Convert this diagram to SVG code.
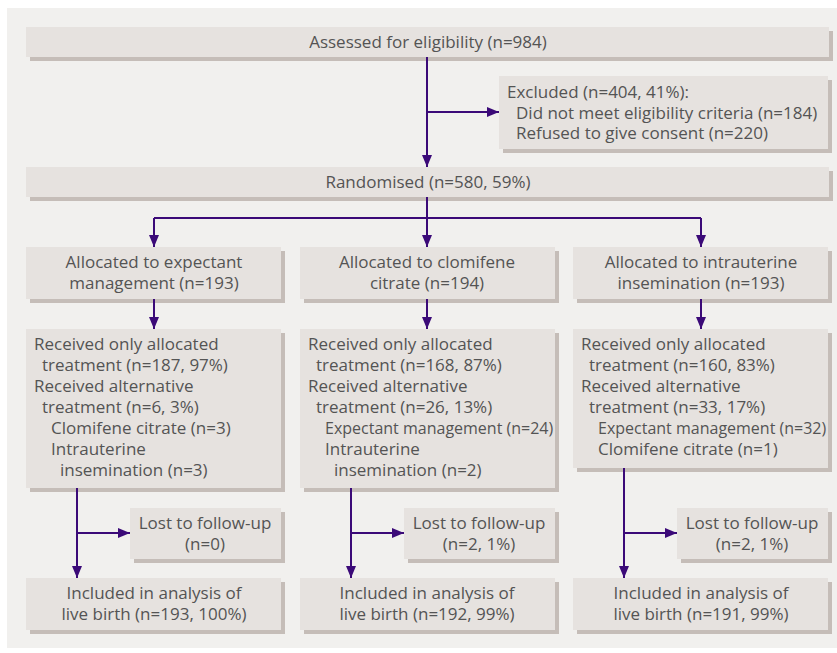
<svg xmlns="http://www.w3.org/2000/svg" width="837" height="653" viewBox="0 0 837 653">
<defs>
<style>
.bg{fill:#f1f0ee}
.sh{fill:#c5bdb8}
.bx{fill:#e6e2df}
text{font-family:"Open Sans","Noto Sans",sans-serif;font-size:17px;fill:#545454}
.c{text-anchor:middle}
.s{font-size:16px}
.ln{stroke:#3b0a78;stroke-width:2;fill:none}
</style>
<marker id="ah" viewBox="0 0 12 10" refX="12" refY="5" markerWidth="12" markerHeight="10" markerUnits="userSpaceOnUse" orient="auto">
<path d="M0,0 L12,5 L0,10 Z" fill="#3b0a78"/>
</marker>
</defs>
<rect class="bg" x="7" y="8" width="830" height="640"/>

<g id="assessed">
<rect class="sh" x="30" y="31" width="803" height="30"/>
<rect class="bx" x="26" y="27" width="803" height="30"/>
<text class="c" x="428" y="48">Assessed for eligibility (n=984)</text>
</g>

<g id="excluded">
<rect class="sh" x="503" y="80" width="329" height="73"/>
<rect class="bx" x="499" y="76" width="329" height="73"/>
<text x="507" y="98">Excluded (n=404, 41%):</text>
<text x="516" y="119">Did not meet eligibility criteria (n=184)</text>
<text x="516" y="139">Refused to give consent (n=220)</text>
</g>

<g id="randomised">
<rect class="sh" x="30" y="171" width="803" height="30"/>
<rect class="bx" x="26" y="167" width="803" height="30"/>
<text class="c" x="428" y="188">Randomised (n=580, 59%)</text>
</g>

<g id="alloc1">
<rect class="sh" x="30" y="251" width="255" height="52"/>
<rect class="bx" x="26" y="247" width="255" height="52"/>
<text class="c" x="154" y="268">Allocated to expectant</text>
<text class="c" x="154" y="289">management (n=193)</text>
</g>
<g id="alloc2">
<rect class="sh" x="304" y="251" width="255" height="52"/>
<rect class="bx" x="300" y="247" width="255" height="52"/>
<text class="c" x="427" y="268">Allocated to clomifene</text>
<text class="c" x="427" y="289">citrate (n=194)</text>
</g>
<g id="alloc3">
<rect class="sh" x="577" y="251" width="255" height="52"/>
<rect class="bx" x="573" y="247" width="255" height="52"/>
<text class="c" x="701" y="268">Allocated to intrauterine</text>
<text class="c" x="701" y="289">insemination (n=193)</text>
</g>

<g id="received1">
<rect class="sh" x="30" y="333" width="255" height="159"/>
<rect class="bx" x="26" y="329" width="255" height="159"/>
<text x="34" y="350">Received only allocated</text>
<text x="42" y="371">treatment (n=187, 97%)</text>
<text x="34" y="392">Received alternative</text>
<text x="42" y="413">treatment (n=6, 3%)</text>
<text x="51" y="434">Clomifene citrate (n=3)</text>
<text x="51" y="455">Intrauterine</text>
<text x="60" y="476">insemination (n=3)</text>
</g>
<g id="received2">
<rect class="sh" x="304" y="333" width="255" height="159"/>
<rect class="bx" x="300" y="329" width="255" height="159"/>
<text x="308" y="350">Received only allocated</text>
<text x="316" y="371">treatment (n=168, 87%)</text>
<text x="308" y="392">Received alternative</text>
<text x="316" y="413">treatment (n=26, 13%)</text>
<text class="s" x="325" y="434">Expectant management (n=24)</text>
<text x="325" y="455">Intrauterine</text>
<text x="334" y="476">insemination (n=2)</text>
</g>
<g id="received3">
<rect class="sh" x="577" y="333" width="255" height="139"/>
<rect class="bx" x="573" y="329" width="255" height="139"/>
<text x="581" y="350">Received only allocated</text>
<text x="589" y="371">treatment (n=160, 83%)</text>
<text x="581" y="392">Received alternative</text>
<text x="589" y="413">treatment (n=33, 17%)</text>
<text class="s" x="598" y="434">Expectant management (n=32)</text>
<text x="598" y="455">Clomifene citrate (n=1)</text>
</g>

<g id="lost1">
<rect class="sh" x="134" y="512" width="151" height="51"/>
<rect class="bx" x="130" y="508" width="151" height="51"/>
<text class="c" x="205" y="529">Lost to follow-up</text>
<text class="c" x="205" y="550">(n=0)</text>
</g>
<g id="lost2">
<rect class="sh" x="408" y="512" width="151" height="51"/>
<rect class="bx" x="404" y="508" width="151" height="51"/>
<text class="c" x="479" y="529">Lost to follow-up</text>
<text class="c" x="479" y="550">(n=2, 1%)</text>
</g>
<g id="lost3">
<rect class="sh" x="681" y="512" width="151" height="51"/>
<rect class="bx" x="677" y="508" width="151" height="51"/>
<text class="c" x="752" y="529">Lost to follow-up</text>
<text class="c" x="752" y="550">(n=2, 1%)</text>
</g>

<g id="included1">
<rect class="sh" x="30" y="582" width="255" height="52"/>
<rect class="bx" x="26" y="578" width="255" height="52"/>
<text class="c" x="154" y="599">Included in analysis of</text>
<text class="c" x="154" y="620">live birth (n=193, 100%)</text>
</g>
<g id="included2">
<rect class="sh" x="304" y="582" width="255" height="52"/>
<rect class="bx" x="300" y="578" width="255" height="52"/>
<text class="c" x="427" y="599">Included in analysis of</text>
<text class="c" x="427" y="620">live birth (n=192, 99%)</text>
</g>
<g id="included3">
<rect class="sh" x="577" y="582" width="255" height="52"/>
<rect class="bx" x="573" y="578" width="255" height="52"/>
<text class="c" x="701" y="599">Included in analysis of</text>
<text class="c" x="701" y="620">live birth (n=191, 99%)</text>
</g>

<g id="connectors" class="ln">
<path d="M427,57 V167" marker-end="url(#ah)"/>
<path d="M427,112 H499" marker-end="url(#ah)"/>
<path d="M427,197 V218"/>
<path d="M154,218 H701"/>
<path d="M154,218 V247" marker-end="url(#ah)"/>
<path d="M427,218 V247" marker-end="url(#ah)"/>
<path d="M701,218 V247" marker-end="url(#ah)"/>
<path d="M154,299 V329" marker-end="url(#ah)"/>
<path d="M427,299 V329" marker-end="url(#ah)"/>
<path d="M701,299 V329" marker-end="url(#ah)"/>
<path d="M77,488 V578" marker-end="url(#ah)"/>
<path d="M77,533 H130" marker-end="url(#ah)"/>
<path d="M351,488 V578" marker-end="url(#ah)"/>
<path d="M351,533 H404" marker-end="url(#ah)"/>
<path d="M624,468 V578" marker-end="url(#ah)"/>
<path d="M624,533 H677" marker-end="url(#ah)"/>
</g>
</svg>
